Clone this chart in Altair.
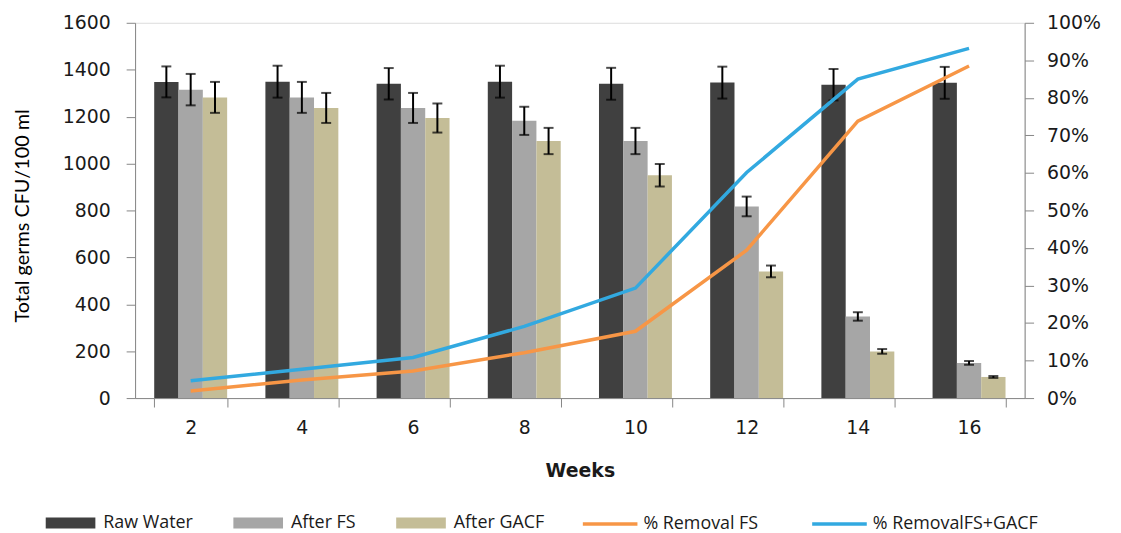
import altair as alt
import pandas as pd

weeks = ["2", "4", "6", "8", "10", "12", "14", "16"]
bar_series = ["Raw Water", "After FS", "After GACF"]
raw_water = [1348, 1349, 1340, 1349, 1340, 1345, 1336, 1344]
raw_err = [66, 68, 67, 68, 68, 68, 67, 68]
after_fs = [1315, 1282, 1237, 1182, 1096, 817, 348, 150]
fs_err = [67, 66, 64, 60, 56, 42, 18, 8]
after_gacf = [1282, 1237, 1194, 1096, 950, 540, 199, 90]
gacf_err = [66, 64, 62, 56, 48, 25, 10, 4]
line_series = ["% Removal FS", "% RemovalFS+GACF"]
removal_fs = [0.019, 0.048, 0.072, 0.121, 0.178, 0.394, 0.738, 0.885]
removal_fs_gacf = [0.046, 0.077, 0.108, 0.191, 0.293, 0.601, 0.850, 0.932]

bar_colors = ["#404040", "#a6a6a6", "#c4bd97"]
line_colors = ["#f79646", "#32a9e0"]

rows = []
for name, vals, errs in zip(bar_series, [raw_water, after_fs, after_gacf], [raw_err, fs_err, gacf_err]):
    for w, v, e in zip(weeks, vals, errs):
        rows.append({"week": w, "series": name, "value": v, "lo": v - e, "hi": v + e})
bars_df = pd.DataFrame(rows)

lrows = []
for name, vals in zip(line_series, [removal_fs, removal_fs_gacf]):
    for w, v in zip(weeks, vals):
        lrows.append({"week": w, "series": name, "pct": v})
lines_df = pd.DataFrame(lrows)

axis_color = "#868686"
text_color = "#1a1a1a"

x_enc = alt.X(
    "week:N",
    sort=weeks,
    scale=alt.Scale(paddingInner=0.344, paddingOuter=0.172),
    axis=alt.Axis(
        title="Weeks",
        labelAngle=0,
        labelFont="DejaVu Sans",
        labelFontSize=19,
        labelColor=text_color,
        labelPadding=12,
        tickBand="extent",
        tickSize=9,
        tickColor=axis_color,
        domainColor=axis_color,
        titleFont="DejaVu Sans",
        titleFontSize=19,
        titleFontWeight="bold",
        titleColor=text_color,
        titleY=73,
        titleBaseline="middle",
        grid=False,
    ),
)

y_axis = alt.Axis(
    title="Total germs CFU/100 ml",
    values=list(range(0, 1601, 200)),
    format="d",
    labelFont="DejaVu Sans",
    labelFontSize=19,
    labelColor=text_color,
    labelPadding=16,
    tickSize=9,
    tickColor=axis_color,
    domainColor=axis_color,
    titleFont="Lato",
    titleFontSize=20,
    titleFontWeight="normal",
    titleColor="#000000",
    titleX=-113,
    titleY=194,
    titleBaseline="middle",
    grid=False,
)
y_scale = alt.Scale(domain=[0, 1600], nice=False)
xoff = alt.XOffset("series:N", sort=bar_series, scale=alt.Scale(paddingInner=0, paddingOuter=0))

bars = alt.Chart(bars_df).mark_bar().encode(
    x=x_enc,
    xOffset=xoff,
    y=alt.Y("value:Q", scale=y_scale, axis=y_axis),
    fill=alt.Fill(
        "series:N",
        sort=bar_series,
        scale=alt.Scale(domain=bar_series, range=bar_colors),
        legend=alt.Legend(
            title=None,
            orient="none",
            legendX=-77.5,
            legendY=491,
            direction="horizontal",
            columns=3,
            symbolType="M-2,-0.44H2V0.44H-2Z",
            symbolSize=625,
            symbolStrokeWidth=0,
            labelFont="Open Sans",
            labelFontSize=18,
            labelColor=text_color,
            labelOffset=20.5,
            labelLimit=300,
            columnPadding=40,
            padding=0,
        ),
    ),
)

err = alt.Chart(bars_df).mark_rule(color="black", strokeWidth=2).encode(
    x=x_enc,
    xOffset=xoff,
    y=alt.Y("lo:Q", scale=y_scale, axis=y_axis),
    y2="hi:Q",
)
cap_lo = alt.Chart(bars_df).mark_tick(color="black", thickness=2, size=10, orient="horizontal").encode(
    x=x_enc,
    xOffset=xoff,
    y=alt.Y("lo:Q", scale=y_scale, axis=y_axis),
)
cap_hi = alt.Chart(bars_df).mark_tick(color="black", thickness=2, size=10, orient="horizontal").encode(
    x=x_enc,
    xOffset=xoff,
    y=alt.Y("hi:Q", scale=y_scale, axis=y_axis),
)

left = alt.layer(bars, err, cap_lo, cap_hi)

lines = alt.Chart(lines_df).mark_line(strokeWidth=3.5).encode(
    x=x_enc,
    y=alt.Y(
        "pct:Q",
        scale=alt.Scale(domain=[0, 1], nice=False),
        axis=alt.Axis(
            title=None,
            orient="right",
            format=".0%",
            values=[i / 10 for i in range(11)],
            labelFont="DejaVu Sans",
            labelFontSize=19,
            labelColor=text_color,
            labelPadding=13,
            tickSize=9,
            tickColor=axis_color,
            domainColor=axis_color,
            grid=False,
        ),
    ),
    stroke=alt.Stroke(
        "series:N",
        sort=line_series,
        scale=alt.Scale(domain=line_series, range=line_colors),
        legend=alt.Legend(
            title=None,
            orient="none",
            legendX=449,
            legendY=475,
            direction="horizontal",
            columns=2,
            symbolType="stroke",
            symbolSize=3025,
            symbolStrokeWidth=3.5,
            labelFont="Open Sans",
            labelFontSize=18,
            labelColor=text_color,
            labelOffset=4,
            labelLimit=300,
            columnPadding=47,
            padding=0,
        ),
    ),
)

chart = (
    alt.layer(left, lines)
    .resolve_scale(y="independent")
    .properties(
        width=896,
        height=378,
        autosize=alt.AutoSizeParams(type="none"),
        padding={"left": 128, "top": 13, "right": 89, "bottom": 134},
    )
    .configure_view(stroke=None)
    .configure(background="white")
)

chart.save("out.html", embed_options={"renderer": "svg", "actions": False})
